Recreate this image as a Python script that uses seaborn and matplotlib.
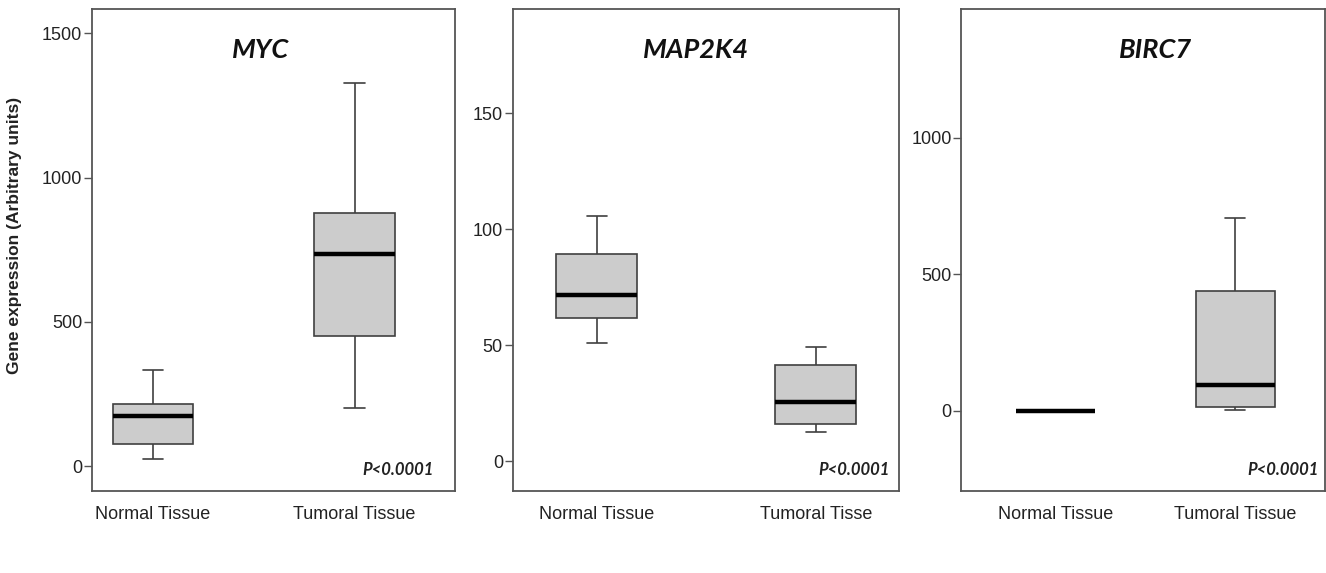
import pandas as pd
import matplotlib
matplotlib.use("Agg")
import matplotlib.pyplot as plt
import seaborn as sns

# 每组的五数概括（最小值, Q1, 中位数, Q3, 最大值）
myc_normal = [24, 78, 173, 214, 333]
myc_tumoral = [202, 450, 734, 876, 1327]
map2k4_normal = [50.8, 61.8, 71.5, 89.3, 105.8]
map2k4_tumoral = [12.6, 16.0, 25.5, 41.3, 49.3]
birc7_normal = [0, 0, 0, 0, 0]
birc7_tumoral = [1, 13, 93, 438, 704]

genes = ["MYC", "MAP2K4", "BIRC7"]
labels_std = ["Normal Tissue", "Tumoral Tissue"]
labels_map = ["Normal Tissue", "Tumoral Tisse"]
yticks_myc = [0, 500, 1000, 1500]
yticks_map = [0, 50, 100, 150]
yticks_birc = [0, 500, 1000]
p_text = "P<0.0001"

sns.set_theme(style="ticks")
plt.rcParams['font.family'] = ['Liberation Sans', 'DejaVu Sans']

def make_df(normal, tumoral, labels):
    return pd.DataFrame({
        'tissue': [labels[0]] * len(normal) + [labels[1]] * len(tumoral),
        'value': list(normal) + list(tumoral),
    })

panels = [
    dict(df=make_df(myc_normal, myc_tumoral, labels_std), labels=labels_std,
         rect=[0.0694, 0.1431, 0.2738, 0.8412], ylim=(-86, 1584), xlim=(-0.303, 1.499),
         width=0.40, yticks=yticks_myc, title_x=0.463, p_x=0.942),
    dict(df=make_df(map2k4_normal, map2k4_tumoral, labels_map), labels=labels_map,
         rect=[0.3866, 0.1431, 0.2913, 0.8412], ylim=(-12.9, 195), xlim=(-0.385, 1.379),
         width=0.37, yticks=yticks_map, title_x=0.476, p_x=0.977),
    dict(df=make_df(birc7_normal, birc7_tumoral, labels_std), labels=labels_std,
         rect=[0.7250, 0.1431, 0.2743, 0.8412], ylim=(-295, 1472), xlim=(-0.525, 1.50),
         width=0.44, yticks=yticks_birc, title_x=0.533, p_x=0.983),
]

fig = plt.figure(figsize=(13.26, 5.73), dpi=100)

for i, (gene, p) in enumerate(zip(genes, panels)):
    ax = fig.add_axes(p['rect'])
    sns.boxplot(data=p['df'], x='tissue', y='value', order=p['labels'], ax=ax,
                color='#cccccc', saturation=1, width=p['width'],
                linecolor='#404040', linewidth=1.2, whis=1.5,
                capwidths=p['width'] * 0.25,
                medianprops={'color': 'black', 'linewidth': 3.2})
    ax.set_xlim(*p['xlim'])
    ax.set_ylim(*p['ylim'])
    ax.set_yticks(p['yticks'])
    ax.set_xlabel('')
    ax.set_ylabel('')
    for s in ax.spines.values():
        s.set_visible(True)
        s.set_color('#555555')
        s.set_linewidth(1.3)
    ax.tick_params(axis='y', length=6, width=1, color='#555555', labelsize=13,
                   labelcolor='#222222', pad=1)
    ax.tick_params(axis='x', length=0, labelsize=13, labelcolor='#222222', pad=11)

    ax.text(p['title_x'], 0.915, gene, transform=ax.transAxes, ha='center', va='center',
            fontsize=19.5, fontweight='bold', fontstyle='italic', family=['Lato', 'DejaVu Sans'],
            color='#111111')
    ax.text(p['p_x'], 0.044, p_text, transform=ax.transAxes, ha='right', va='center',
            fontsize=12, fontweight='bold', fontstyle='italic', family=['Lato', 'DejaVu Sans'],
            color='#222222')

    if i == 0:
        ax.set_ylabel('Gene expression (Arbitrary units)', fontsize=12.5, fontweight='bold',
                      color='#222222')
        ax.yaxis.set_label_coords(-0.193, 0.531)

plt.savefig('out.png', dpi=100)
